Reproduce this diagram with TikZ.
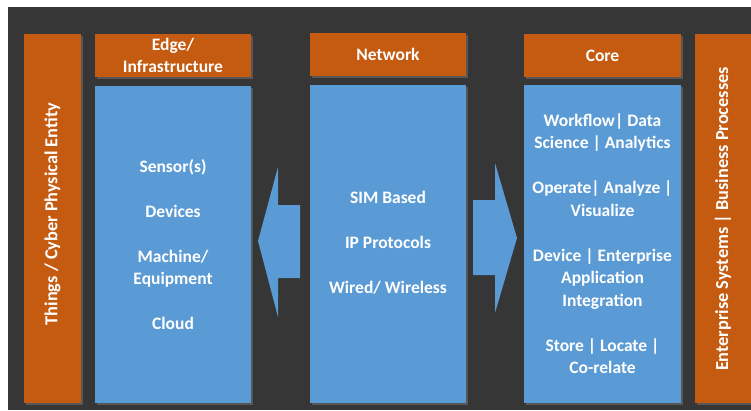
\documentclass[tikz,border=0pt]{standalone}
\usepackage{fontspec}
\setmainfont{Carlito}
\usetikzlibrary{shadows}
\definecolor{bgdark}{HTML}{363636}
\definecolor{orng}{HTML}{C55A11}
\definecolor{blu}{HTML}{5B9BD5}
\begin{document}
\begin{tikzpicture}[x=1pt,y=1pt,
  orangebox/.style={fill=orng,draw=none,drop shadow={opacity=0.45,shadow xshift=1.5pt,shadow yshift=-1.5pt}},
  bluebox/.style={fill=blu,draw=none,drop shadow={opacity=0.45,shadow xshift=1.5pt,shadow yshift=-1.5pt}},
  txt/.style={text=white,font=\fontsize{17.5}{22.5}\selectfont\bfseries,align=center,inner sep=0pt},
  vtxt/.style={text=white,font=\fontsize{18.3}{22.5}\selectfont\bfseries,align=center,inner sep=0pt,rotate=90},
  arrowshape/.style={fill=blu,draw=none}]
\useasboundingbox[fill=white] (0,0) rectangle (751,-410);
\fill[bgdark] (8,-7) rectangle (751,-410);
% side bars
\path[orangebox] (24,-34) rectangle (81,-403);
\path[orangebox] (695,-34) rectangle (755,-403);
\node[vtxt] (things) at (52.5,-214) {Things / Cyber Physical Entity};
\node[vtxt] (ent) at (723,-219) {Enterprise Systems | Business Processes};
% headers
\path[orangebox] (95,-34) rectangle (251,-77);
\node[txt] (edgeh) at (173,-55.5) {Edge/\\Infrastructure};
\path[orangebox] (310,-33) rectangle (466,-76);
\node[txt] (neth) at (388,-54.5) {Network};
\path[orangebox] (524,-34) rectangle (681,-77);
\node[txt] (coreh) at (602.5,-55.5) {Core};
% blue boxes
\path[bluebox] (95,-86) rectangle (251,-403);
\path[bluebox] (310,-85) rectangle (466,-403);
\path[bluebox] (524,-85) rectangle (681,-403);
\node[txt] (edget) at (173,-244.5) {Sensor(s)\\[22.5pt]Devices\\[22.5pt]Machine/\\Equipment\\[22.5pt]Cloud};
\node[txt] (nett) at (388,-243) {SIM Based\\[22.5pt]IP Protocols\\[22.5pt]Wired/ Wireless};
\node[txt] (coret) at (602.5,-243.5) {Workflow| Data\\Science | Analytics\\[22.5pt]Operate| Analyze |\\Visualize\\[22.5pt]Device | Enterprise\\Application\\Integration\\[22.5pt]Store | Locate |\\Co-relate};
% arrows
\fill[arrowshape] (300,-205) -- (278,-205) -- (278,-167) -- (258,-241) -- (278,-317) -- (278,-278) -- (300,-278) -- cycle;
\fill[arrowshape] (473,-200) -- (495,-200) -- (495,-163) -- (517,-238) -- (495,-313) -- (495,-275) -- (473,-275) -- cycle;
\end{tikzpicture}
\end{document}
